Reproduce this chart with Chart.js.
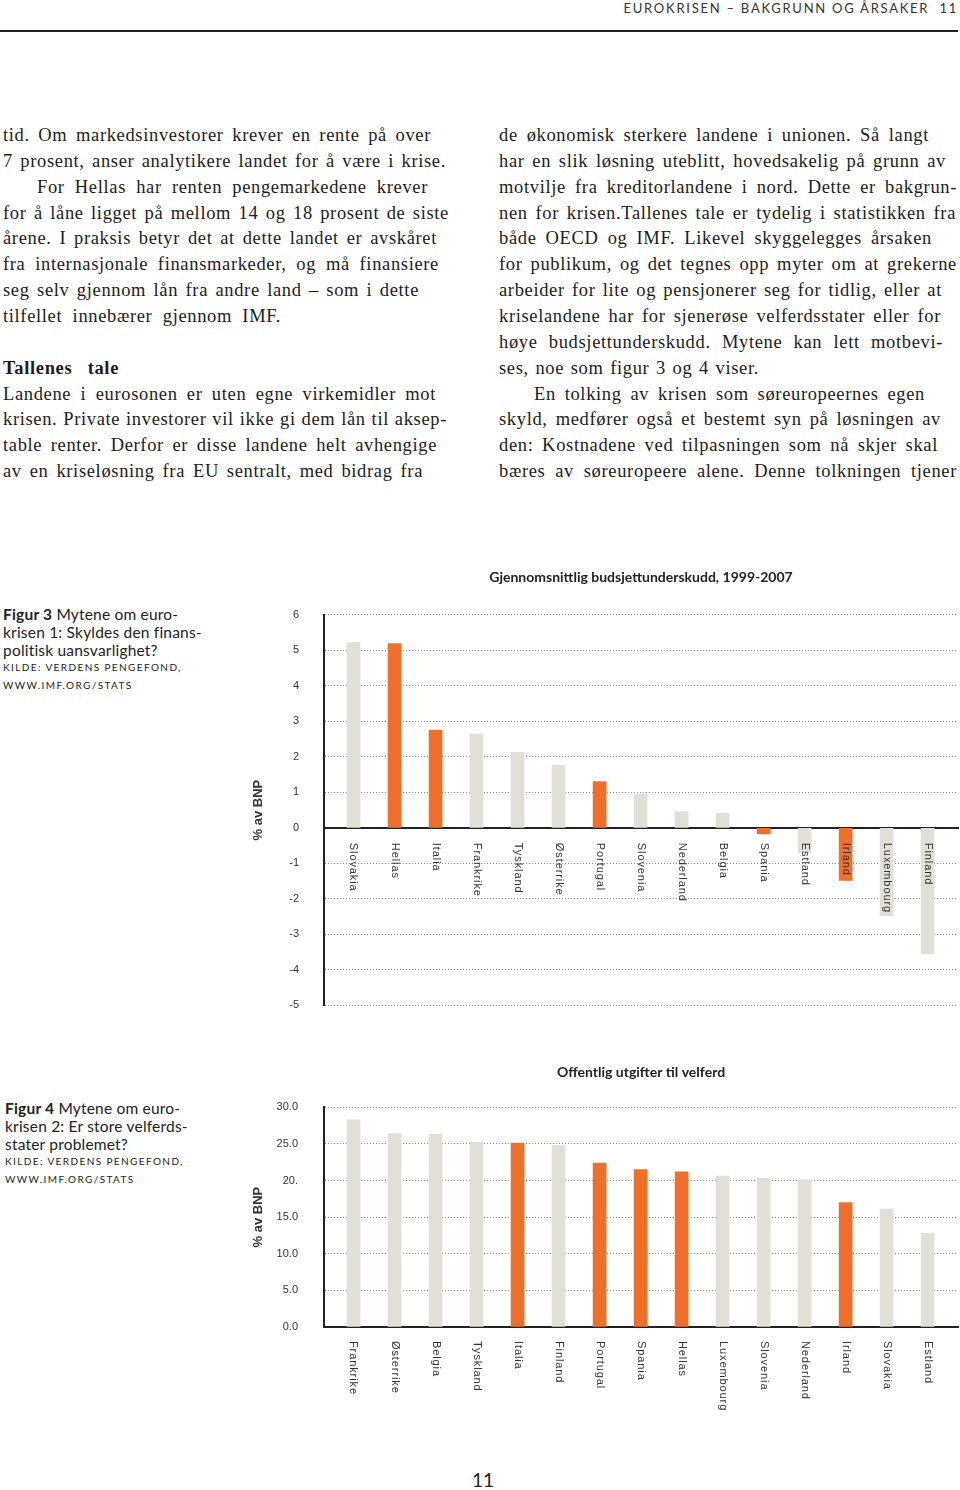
<!DOCTYPE html>
<html lang="no">
<head>
<meta charset="utf-8">
<title>Eurokrisen – bakgrunn og årsaker</title>
<script src="https://cdn.jsdelivr.net/npm/chart.js@4/dist/chart.umd.min.js"></script>
<style>
  html, body { margin: 0; padding: 0; background: #fff; }
  body { position: relative; width: 960px; height: 1490px; overflow: hidden; color: #1c1c1c; }
  .head { position: absolute; right: 2px; top: 0; font: 13px Lato, sans-serif; letter-spacing: 1.75px; color: #333; line-height: 16px; }
  .rule { position: absolute; left: 0; top: 30px; width: 958px; height: 0; border-top: 2.5px solid #222; }
  .ln { position: absolute; white-space: nowrap; font: 18.5px "Liberation Serif", serif; letter-spacing: 0.65px; line-height: 26px; height: 26px; }
  .ln.b { font-weight: bold; }
  .cap { position: absolute; font: 15.5px Lato, sans-serif; letter-spacing: 0.2px; line-height: 18px; color: #222; }
  .cap .src { font-size: 10px; letter-spacing: 1.4px; line-height: 17.5px; }
  canvas { position: absolute; }
  .pg { position: absolute; left: 463px; top: 1468px; width: 40px; text-align: center; font: 19px Lato, sans-serif; color: #222; }
</style>
</head>
<body>
<div class="head">EUROKRISEN – BAKGRUNN OG ÅRSAKER&nbsp;&nbsp;11</div>
<div class="rule"></div>
<div id="text"></div>

<div class="cap" style="left:3px; top:605px">
  <div><b>Figur 3</b> Mytene om euro-</div>
  <div>krisen 1: Skyldes den finans-</div>
  <div>politisk uansvarlighet?</div>
  <div class="src">KILDE: VERDENS PENGEFOND,</div>
  <div class="src">WWW.IMF.ORG/STATS</div>
</div>
<div class="cap" style="left:5px; top:1099px">
  <div><b>Figur 4</b> Mytene om euro-</div>
  <div>krisen 2: Er store velferds-</div>
  <div>stater problemet?</div>
  <div class="src">KILDE: VERDENS PENGEFOND,</div>
  <div class="src">WWW.IMF.ORG/STATS</div>
</div>

<canvas id="fig3" width="720" height="475" style="left:240px; top:562px"></canvas>
<canvas id="fig4" width="720" height="365" style="left:240px; top:1055px"></canvas>
<div class="pg">11</div>

<script>
// figur 3: gjennomsnittlig budsjettunderskudd 1999-2007, % av BNP
const countries1 = ['Slovakia', 'Hellas', 'Italia', 'Frankrike', 'Tyskland', 'Østerrike', 'Portugal',
  'Slovenia', 'Nederland', 'Belgia', 'Spania', 'Estland', 'Irland', 'Luxembourg', 'Finland'];
const deficit = [5.22, 5.19, 2.75, 2.64, 2.13, 1.76, 1.30, 0.95, 0.46, 0.41, -0.17, -0.7, -1.48, -2.48, -3.55];

// figur 4: offentlige utgifter til velferd, % av BNP
const countries2 = ['Frankrike', 'Østerrike', 'Belgia', 'Tyskland', 'Italia', 'Finland', 'Portugal',
  'Spania', 'Hellas', 'Luxembourg', 'Slovenia', 'Nederland', 'Irland', 'Slovakia', 'Estland'];
const welfare = [28.3, 26.4, 26.3, 25.2, 25.1, 24.8, 22.4, 21.5, 21.2, 20.6, 20.3, 20.1, 17.0, 16.1, 12.8];
const welfareTicks = ['0.0', '5.0', '10.0', '15.0', '20.', '25.0', '30.0'];

const crisis = ['Hellas', 'Italia', 'Portugal', 'Spania', 'Irland'];

// brødtekst: [tekst, venstre, høyre kant, linje, fet]
const leftCol = [
  ['tid. Om markedsinvestorer krever en rente på over', 3, 431, 0],
  ['7 prosent, anser analytikere landet for å være i krise.', 3, 446, 1],
  ['For Hellas har renten pengemarkedene krever', 37, 428, 2],
  ['for å låne ligget på mellom 14 og 18 prosent de siste', 3, 449, 3],
  ['årene. I praksis betyr det at dette landet er avskåret', 3, 437, 4],
  ['fra internasjonale finansmarkeder, og må finansiere', 3, 439, 5],
  ['seg selv gjennom lån fra andre land – som i dette', 3, 419, 6],
  ['tilfellet innebærer gjennom IMF.', 3, 281, 7],
  ['Tallenes tale', 3, 119, 9, true],
  ['Landene i eurosonen er uten egne virkemidler mot', 3, 436, 10],
  ['krisen. Private investorer vil ikke gi dem lån til aksep-', 3, 447, 11],
  ['table renter. Derfor er disse landene helt avhengige', 3, 437, 12],
  ['av en kriseløsning fra EU sentralt, med bidrag fra', 3, 423, 13]
];
const rightCol = [
  ['de økonomisk sterkere landene i unionen. Så langt', 499, 929, 0],
  ['har en slik løsning uteblitt, hovedsakelig på grunn av', 499, 946, 1],
  ['motvilje fra kreditorlandene i nord. Dette er bakgrun-', 499, 957, 2],
  ['nen for krisen.Tallenes tale er tydelig i statistikken fra', 499, 956, 3],
  ['både OECD og IMF. Likevel skyggelegges årsaken', 499, 932, 4],
  ['for publikum, og det tegnes opp myter om at grekerne', 499, 957, 5],
  ['arbeider for lite og pensjonerer seg for tidlig, eller at', 499, 942, 6],
  ['kriselandene har for sjenerøse velferdsstater eller for', 499, 941, 7],
  ['høye budsjettunderskudd. Mytene kan lett motbevi-', 499, 943, 8],
  ['ses, noe som figur 3 og 4 viser.', 499, 759, 9],
  ['En tolking av krisen som søreuropeernes egen', 534, 925, 10],
  ['skyld, medfører også et bestemt syn på løsningen av', 499, 941, 11],
  ['den: Kostnadene ved tilpasningen som nå skjer skal', 499, 938, 12],
  ['bæres av søreuropeere alene. Denne tolkningen tjener', 499, 957, 13]
];

const textBox = document.getElementById('text');
leftCol.concat(rightCol).forEach(([t, x0, x1, row, bold]) => {
  const d = document.createElement('div');
  d.className = bold ? 'ln b' : 'ln';
  d.textContent = t;
  d.style.left = x0 + 'px';
  d.style.top = (122 + row * 25.85) + 'px';
  textBox.appendChild(d);
  // strekk ordmellomrom så linja slutter der den gjør i originalen
  const gaps = t.split(' ').length - 1;
  if (gaps > 0) {
    const ws = (x1 - x0 - d.getBoundingClientRect().width) / gaps;
    d.style.wordSpacing = ws + 'px';
  }
});

const ORANGE = '#f0702a';
const GRAY = '#e2dfd7';
const barColors = list => list.map(c => crisis.includes(c) ? ORANGE : GRAY);

// landnavn skrives ovenfra og ned under nullinja
const downLabels = {
  id: 'downLabels',
  afterDatasetsDraw(chart, args, opts) {
    const { ctx, scales: { x, y } } = chart;
    const top = y.getPixelForValue(0) + opts.gap;
    ctx.save();
    ctx.font = '11px "Liberation Sans"';
    ctx.fillStyle = '#333';
    ctx.letterSpacing = '0.9px';
    ctx.textAlign = 'left';
    ctx.textBaseline = 'middle';
    chart.data.labels.forEach((lab, i) => {
      ctx.save();
      ctx.translate(x.getPixelForValue(i), top);
      ctx.rotate(Math.PI / 2);
      ctx.fillText(lab, 0, 0);
      ctx.restore();
    });
    ctx.restore();
  }
};

const yTitle = {
  display: true,
  text: '% av BNP',
  color: '#333',
  font: { family: 'Liberation Sans', size: 13, weight: 'bold' },
  padding: { top: 11, bottom: 0 }
};

new Chart(document.getElementById('fig3'), {
  type: 'bar',
  data: {
    labels: countries1,
    datasets: [{
      data: deficit.map((v, i) => ({ x: i, y: v })),
      backgroundColor: barColors(countries1),
      barThickness: 13,
      borderWidth: 0
    }]
  },
  options: {
    responsive: false,
    animation: false,
    layout: { padding: { right: 2, bottom: 20 } },
    plugins: {
      legend: { display: false },
      tooltip: { enabled: false },
      title: {
        display: true,
        fullSize: false,
        text: 'Gjennomsnittlig budsjettunderskudd, 1999-2007',
        color: '#222',
        font: { family: 'Lato', size: 14, weight: 'bold' },
        padding: { top: 7, bottom: 29 }
      },
      downLabels: { gap: 15 }
    },
    scales: {
      x: {
        type: 'linear',
        offset: false,
        position: { y: 0 },
        min: -0.72,
        max: 14.74,
        z: 1,
        afterFit: s => { s.height = 0; },
        ticks: { display: false },
        grid: { display: false, drawTicks: false, offset: false },
        border: { color: '#222', width: 2 }
      },
      y: {
        min: -5,
        max: 6,
        afterFit: s => { s.width = 84; },
        ticks: {
          stepSize: 1,
          padding: 25,
          color: '#333',
          font: { family: 'Liberation Sans', size: 11 }
        },
        grid: { drawTicks: false, color: '#8a8a8a', lineWidth: 1 },
        border: { color: '#222', width: 2, dash: [1, 2] },
        title: yTitle
      }
    }
  },
  plugins: [downLabels]
});

new Chart(document.getElementById('fig4'), {
  type: 'bar',
  data: {
    labels: countries2,
    datasets: [{
      data: welfare.map((v, i) => ({ x: i, y: v })),
      backgroundColor: barColors(countries2),
      barThickness: 13,
      borderWidth: 0
    }]
  },
  options: {
    responsive: false,
    animation: false,
    layout: { padding: { right: 2, bottom: 93 } },
    plugins: {
      legend: { display: false },
      tooltip: { enabled: false },
      title: {
        display: true,
        fullSize: false,
        text: 'Offentlig utgifter til velferd',
        color: '#222',
        font: { family: 'Lato', size: 14, weight: 'bold' },
        padding: { top: 9.5, bottom: 26 }
      },
      downLabels: { gap: 14 }
    },
    scales: {
      x: {
        type: 'linear',
        offset: false,
        min: -0.72,
        max: 14.74,
        z: 1,
        afterFit: s => { s.height = 0; },
        ticks: { display: false },
        grid: { display: false, drawTicks: false, offset: false },
        border: { color: '#222', width: 2 }
      },
      y: {
        min: 0,
        max: 30,
        afterFit: s => { s.width = 84; },
        ticks: {
          stepSize: 5,
          padding: 26,
          color: '#333',
          font: { family: 'Liberation Sans', size: 11 },
          callback: v => welfareTicks[v / 5]
        },
        grid: { drawTicks: false, color: '#8a8a8a', lineWidth: 1 },
        border: { color: '#222', width: 2, dash: [1, 2] },
        title: yTitle
      }
    }
  },
  plugins: [downLabels]
});
</script>
</body>
</html>
